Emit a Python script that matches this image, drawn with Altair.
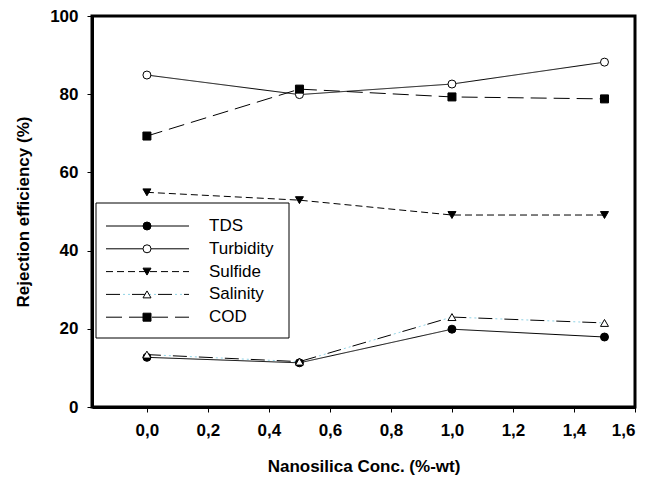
import altair as alt
import pandas as pd

conc = [0.0, 0.5, 1.0, 1.5]
series_names = ["TDS", "Turbidity", "Sulfide", "Salinity", "COD"]
tds = [12.7, 11.3, 19.9, 17.9]
turbidity = [84.9, 79.9, 82.6, 88.2]
sulfide = [54.9, 52.9, 49.1, 49.1]
salinity = [13.4, 11.6, 23.0, 21.5]
cod = [69.3, 81.3, 79.3, 78.8]

x_ticks = [0.0, 0.2, 0.4, 0.6, 0.8, 1.0, 1.2, 1.4, 1.6]
y_ticks = [0, 20, 40, 60, 80, 100]

values = {"TDS": tds, "Turbidity": turbidity, "Sulfide": sulfide,
          "Salinity": salinity, "COD": cod}
rows = []
for name in series_names:
    for xv, yv in zip(conc, values[name]):
        rows.append({"series": name, "conc": xv, "eff": yv})
df = pd.DataFrame(rows)
leg = pd.DataFrame({"series": series_names, "idx": list(range(len(series_names)))})

FONT = "Liberation Sans"

dash_scale = alt.Scale(domain=series_names,
                       range=[[1, 0], [1, 0], [7, 4], [14, 12], [16, 7]])
shape_scale = alt.Scale(domain=series_names,
                        range=["circle", "circle", "triangle-down", "triangle-up", "square"])
fill_scale = alt.Scale(domain=series_names,
                       range=["black", "white", "black", "white", "black"])

x_enc = alt.X("conc:Q",
              scale=alt.Scale(domain=[-0.18, 1.6], nice=False, zero=False),
              axis=alt.Axis(values=x_ticks,
                            labelExpr="replace(format(datum.value, '.1f'), '.', ',')",
                            title="Nanosilica Conc. (%-wt)", titlePadding=20,
                            labelPadding=10))
y_enc = alt.Y("eff:Q",
              scale=alt.Scale(domain=[0, 100], nice=False),
              axis=alt.Axis(values=y_ticks, format="d",
                            title="Rejection efficiency (%)", titlePadding=17,
                            labelPadding=9))

base = alt.Chart(df)

lines = base.mark_line(color="black", strokeWidth=1).encode(
    x=x_enc, y=y_enc, detail="series:N",
    strokeDash=alt.StrokeDash("series:N", scale=dash_scale, legend=None),
)
sal_dots = base.transform_filter(alt.datum.series == "Salinity").mark_line(
    color="#8fd3e6", strokeWidth=1, strokeDash=[0, 17, 2, 3, 2, 2]
).encode(x="conc:Q", y="eff:Q")

points = base.mark_point(filled=False, stroke="black", strokeWidth=1, size=64, opacity=1).encode(
    x="conc:Q", y="eff:Q",
    shape=alt.Shape("series:N", scale=shape_scale, legend=None),
    fill=alt.Fill("series:N", scale=fill_scale, legend=None),
)

# Legend (drawn inside the plot area)
leg_base = alt.Chart(leg).transform_calculate(ly="210 + datum.idx * 22.8")
leg_box = alt.Chart(leg).transform_filter(alt.datum.idx == 0).mark_rect(
    fill="white", stroke="black", strokeWidth=1
).encode(x=alt.value(4), x2=alt.value(197), y=alt.value(187), y2=alt.value(322))
leg_lines = leg_base.mark_rule(color="black", strokeWidth=1).encode(
    x=alt.value(14), x2=alt.value(97),
    y=alt.Y("ly:Q", scale=None),
    strokeDash=alt.StrokeDash("series:N", scale=dash_scale, legend=None),
)
leg_dots = leg_base.transform_filter(alt.datum.series == "Salinity").mark_rule(
    color="#8fd3e6", strokeWidth=1, strokeDash=[0, 17, 2, 3, 2, 2]
).encode(x=alt.value(14), x2=alt.value(97), y=alt.Y("ly:Q", scale=None))
leg_pts = leg_base.mark_point(filled=False, stroke="black", strokeWidth=1, size=64, opacity=1).encode(
    x=alt.value(55), y=alt.Y("ly:Q", scale=None),
    shape=alt.Shape("series:N", scale=shape_scale, legend=None),
    fill=alt.Fill("series:N", scale=fill_scale, legend=None),
)
leg_text = leg_base.mark_text(align="left", baseline="middle", font=FONT, fontSize=17,
                              color="black").encode(
    x=alt.value(117), y=alt.Y("ly:Q", scale=None), text="series:N")

chart = alt.layer(lines, sal_dots, points, leg_box, leg_lines, leg_dots, leg_pts, leg_text).properties(
    width=543, height=391,
    autosize=alt.AutoSizeParams(type="none"),
    padding={"left": 92, "top": 16, "right": 14, "bottom": 71},
    background="white",
).configure_view(
    stroke="black", strokeWidth=3
).configure_axis(
    grid=False, domainColor="black", domainWidth=3, tickColor="black", tickWidth=1,
    tickSize=5, labelFont=FONT, labelFontWeight="bold", labelFontSize=17,
    labelColor="black", titleFont=FONT, titleFontWeight="bold", titleFontSize=17,
    titleColor="black",
)

chart.save("out.html", embed_options={"renderer": "svg", "actions": False})
